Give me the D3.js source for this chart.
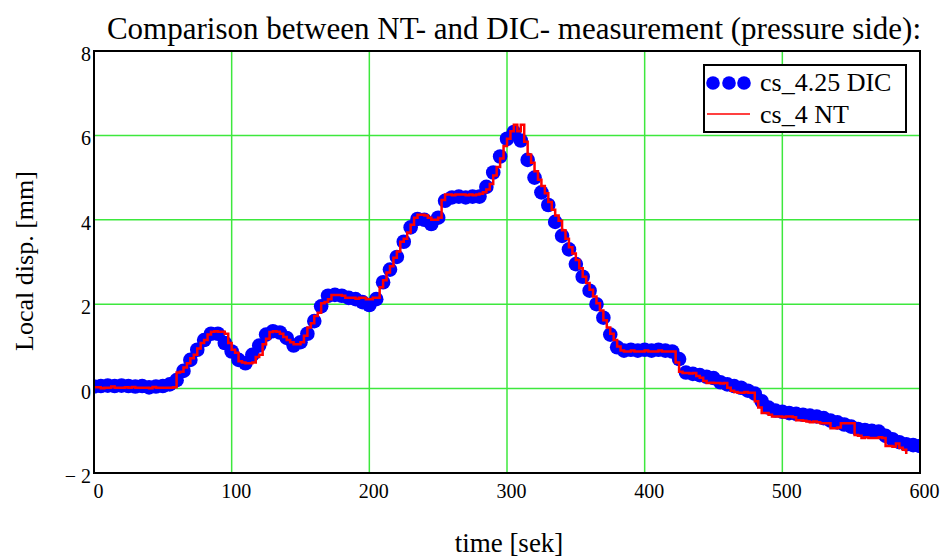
<!DOCTYPE html>
<html>
<head>
<meta charset="utf-8">
<script src="https://cdn.jsdelivr.net/npm/d3@7"></script>
<style>
  body { margin: 0; background: #fff; }
  svg { display: block; font-family: "Liberation Serif", "Times New Roman", serif; }
</style>
</head>
<body>
<svg id="stage" width="944" height="559"></svg>
<script>

//DIC measurement, one value every 5 s (0..600)
var dicStep = 5;
var dicValues = [
  0.05, 0.06, 0.07, 0.06, 0.07, 0.06, 0.05, 0.06, 0.03, 0.05,
  0.06, 0.10, 0.20, 0.42, 0.68, 0.92, 1.15, 1.30, 1.30, 1.08,
  0.88, 0.68, 0.60, 0.80, 1.02, 1.28, 1.36, 1.33, 1.20, 1.02,
  1.10, 1.30, 1.60, 1.95, 2.20, 2.22, 2.20, 2.15, 2.12, 2.05,
  1.98, 2.12, 2.52, 2.82, 3.12, 3.48, 3.82, 4.02, 4.00, 3.90,
  4.05, 4.45, 4.53, 4.55, 4.53, 4.55, 4.55, 4.78, 5.12, 5.50,
  5.92, 6.08, 5.88, 5.42, 5.00, 4.65, 4.35, 3.95, 3.62, 3.30,
  2.95, 2.65, 2.32, 2.00, 1.68, 1.28, 0.98, 0.90, 0.92, 0.90,
  0.92, 0.90, 0.92, 0.90, 0.88, 0.70, 0.38, 0.35, 0.32, 0.28,
  0.25, 0.15, 0.10, 0.06, 0.02, -0.05, -0.12, -0.30, -0.45, -0.52,
  -0.55, -0.58, -0.60, -0.62, -0.64, -0.66, -0.70, -0.76, -0.80, -0.85,
  -0.90, -0.96, -0.98, -1.00, -1.02, -1.12, -1.20, -1.27, -1.32, -1.34, -1.36
];

//NT measurement, one value every 2.5 s (0..590)
var ntStep = 2.5;
var ntValues = [
  0.03, 0.03, 0.01, 0.02, 0.02, 0.05, 0.02, 0.02, 0.02, 0.03,
  0.02, 0.04, 0.02, 0.02, 0.02, 0.02, 0.01, 0.04, 0.02, 0.02,
  0.02, 0.02, 0.02, 0.03, 0.38, 0.40, 0.50, 0.60, 0.72, 0.80,
  0.95, 1.08, 1.15, 1.28, 1.35, 1.36, 1.35, 1.35, 1.30, 1.08,
  0.92, 0.85, 0.65, 0.62, 0.60, 0.60, 0.62, 0.75, 0.80, 1.05,
  1.18, 1.34, 1.36, 1.35, 1.30, 1.22, 1.15, 1.10, 1.05, 1.05,
  1.10, 1.25, 1.45, 1.55, 1.72, 1.80, 2.02, 2.05, 2.12, 2.22,
  2.22, 2.22, 2.20, 2.15, 2.15, 2.15, 2.13, 2.15, 2.15, 2.12,
  2.12, 2.15, 2.15, 2.40, 2.57, 2.75, 2.90, 3.10, 3.25, 3.48,
  3.55, 3.70, 3.88, 4.05, 4.12, 4.12, 4.10, 4.05, 4.00, 4.00,
  4.05, 4.47, 4.60, 4.60, 4.58, 4.60, 4.60, 4.60, 4.58, 4.60,
  4.58, 4.60, 4.62, 4.65, 4.72, 4.85, 5.05, 5.25, 5.45, 5.75,
  5.92, 6.10, 6.25, 6.10, 6.25, 5.85, 5.55, 5.35, 5.15, 4.95,
  4.80, 4.63, 4.42, 4.24, 4.10, 3.98, 3.75, 3.55, 3.35, 3.20,
  3.05, 2.85, 2.65, 2.50, 2.34, 2.18, 2.02, 1.85, 1.62, 1.45,
  1.30, 1.15, 1.00, 0.90, 0.88, 0.88, 0.90, 0.88, 0.88, 0.88,
  0.90, 0.88, 0.88, 0.88, 0.90, 0.88, 0.88, 0.88, 0.88, 0.62,
  0.40, 0.37, 0.37, 0.36, 0.37, 0.30, 0.26, 0.18, 0.13, 0.14,
  0.13, 0.13, 0.12, 0.13, 0.02, -0.05, -0.08, -0.10, -0.10, -0.08,
  -0.10, -0.10, -0.30, -0.45, -0.58, -0.58, -0.62, -0.66, -0.66, -0.66,
  -0.68, -0.66, -0.66, -0.68, -0.75, -0.75, -0.76, -0.78, -0.80, -0.78,
  -0.80, -0.82, -0.82, -0.82, -0.94, -0.94, -0.92, -0.82, -0.82, -0.82,
  -0.82, -1.10, -1.12, -1.17, -1.15, -1.17, -1.17, -1.17, -1.15, -1.17,
  -1.36, -1.36, -1.38, -1.30, -1.40, -1.45, -1.55
];

//Axis ticks
var xTicks = [0, 100, 200, 300, 400, 500, 600];
var yTicks = [-2, 0, 2, 4, 6, 8];
var yTickLabels = ["\u2212 2", "0", "2", "4", "6", "8"];

var titleText = "Comparison between NT- and DIC- measurement (pressure side):";
var xLabel = "time [sek]";
var yLabel = "Local disp. [mm]";
var legendNames = ["cs_4.25 DIC", "cs_4 NT"];

//Plot area
var plotLeft = 94, plotRight = 920, plotTop = 51, plotBottom = 473;
var gridColor = "#3de83d";
var dotRadius = 7.3;

var svg = d3.select("#stage");

var x = d3.scaleLinear().domain([0, 600]).range([plotLeft, plotRight]);
var y = d3.scaleLinear().domain([-2, 8]).range([plotBottom, plotTop]);

var dicData = dicValues.map(function(v, i){ return {t: i * dicStep, v: v}; });
var ntData = ntValues.map(function(v, i){ return {t: i * ntStep, v: v}; });

svg.append("clipPath").attr("id", "plotClip")
  .append("rect")
  .attr("x", plotLeft).attr("y", plotTop)
  .attr("width", plotRight - plotLeft).attr("height", plotBottom - plotTop);

//Grid lines (inner ticks only)
var grid = svg.append("g");
grid.selectAll("line.vgrid")
  .data(xTicks.slice(1, -1))
  .enter().append("line")
  .attr("class", "vgrid")
  .attr("x1", function(d){ return x(d); })
  .attr("x2", function(d){ return x(d); })
  .attr("y1", plotTop).attr("y2", plotBottom)
  .style("stroke", gridColor).style("stroke-width", 1.5);

grid.selectAll("line.hgrid")
  .data(yTicks.slice(1, -1))
  .enter().append("line")
  .attr("class", "hgrid")
  .attr("x1", plotLeft).attr("x2", plotRight)
  .attr("y1", function(d){ return y(d); })
  .attr("y2", function(d){ return y(d); })
  .style("stroke", gridColor).style("stroke-width", 1.5);

//Data
var plot = svg.append("g").attr("clip-path", "url(#plotClip)");

plot.selectAll("circle")
  .data(dicData)
  .enter().append("circle")
  .attr("cx", function(d){ return x(d.t); })
  .attr("cy", function(d){ return y(d.v); })
  .attr("r", dotRadius)
  .style("fill", "#0000ff");

var ntLine = d3.line()
  .x(function(d){ return x(d.t); })
  .y(function(d){ return y(d.v); })
  .curve(d3.curveStepAfter);

plot.append("path")
  .datum(ntData)
  .attr("d", ntLine)
  .style("fill", "none")
  .style("stroke", "#ff0000")
  .style("stroke-width", 2.5);

//Frame
svg.append("rect")
  .attr("x", plotLeft).attr("y", plotTop)
  .attr("width", plotRight - plotLeft).attr("height", plotBottom - plotTop)
  .style("fill", "none").style("stroke", "#000").style("stroke-width", 2);

//Tick labels
svg.selectAll("text.ylab")
  .data(yTicks)
  .enter().append("text")
  .attr("class", "ylab")
  .attr("x", plotLeft - 3)
  .attr("y", function(d){ return y(d) + 10; })
  .attr("text-anchor", "end")
  .style("font-size", "20px")
  .text(function(d, i){ return yTickLabels[i]; });

svg.selectAll("text.xlab")
  .data(xTicks)
  .enter().append("text")
  .attr("class", "xlab")
  .attr("x", function(d){ return x(d) + 4.5; })
  .attr("y", plotBottom + 25)
  .attr("text-anchor", "middle")
  .style("font-size", "20px")
  .text(function(d){ return d; });

//Titles
svg.append("text")
  .attr("x", 514).attr("y", 39)
  .attr("text-anchor", "middle")
  .style("font-size", "31px")
  .text(titleText);

svg.append("text")
  .attr("x", 509).attr("y", 552)
  .attr("text-anchor", "middle")
  .style("font-size", "27px")
  .text(xLabel);

svg.append("text")
  .attr("transform", "translate(33,261) rotate(-90)")
  .attr("text-anchor", "middle")
  .style("font-size", "26px")
  .text(yLabel);

//Legend
var legend = svg.append("g");
legend.append("rect")
  .attr("x", 704).attr("y", 65)
  .attr("width", 202).attr("height", 67)
  .style("fill", "#fff").style("stroke", "#000").style("stroke-width", 2);

legend.selectAll("circle")
  .data([713, 729, 744])
  .enter().append("circle")
  .attr("cx", function(d){ return d; })
  .attr("cy", 83)
  .attr("r", 6.8)
  .style("fill", "#0000ff");

legend.append("line")
  .attr("x1", 707).attr("x2", 750)
  .attr("y1", 114).attr("y2", 114)
  .style("stroke", "#ff0000").style("stroke-width", 1.5);

legend.selectAll("text")
  .data(legendNames)
  .enter().append("text")
  .attr("x", 760)
  .attr("y", function(d, i){ return i == 0 ? 91 : 123; })
  .style("font-size", "26px")
  .text(function(d){ return d; });

</script>
</body>
</html>
